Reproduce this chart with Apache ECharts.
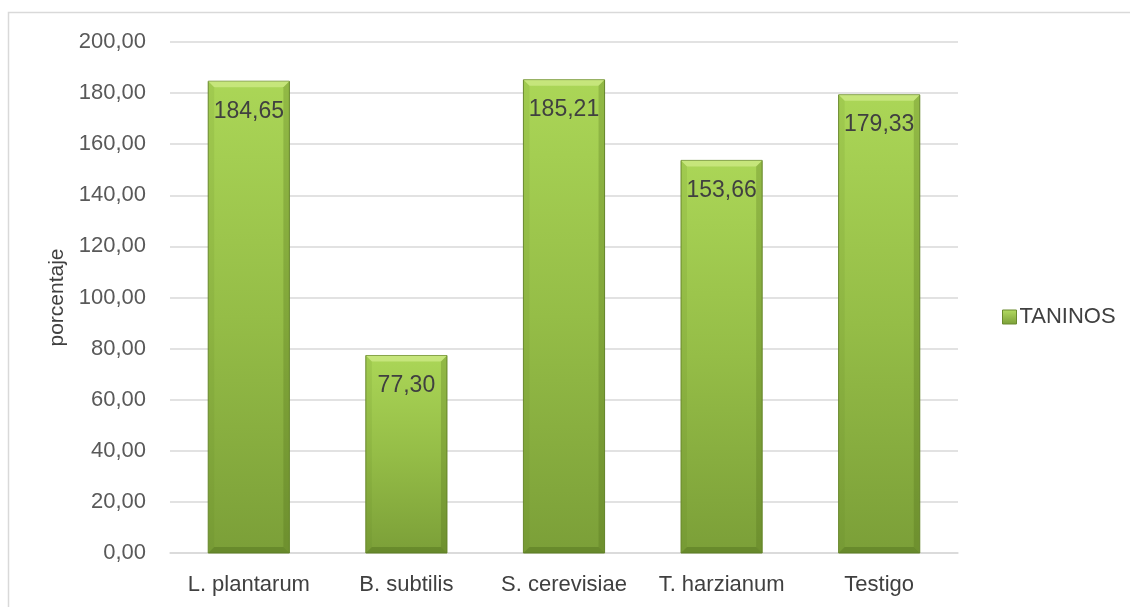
<!DOCTYPE html>
<html>
<head>
<meta charset="utf-8">
<script src="https://cdn.jsdelivr.net/npm/echarts@6/dist/echarts.min.js"></script>
<style>
html,body{margin:0;padding:0;background:#fff;}
#chart{width:1130px;height:607px;}
</style>
</head>
<body>
<div id="chart"></div>
<script>
const categories = ['L. plantarum', 'B. subtilis', 'S. cerevisiae', 'T. harzianum', 'Testigo'];
const taninos = [184.65, 77.30, 185.21, 153.66, 179.33];
const yTicks = [0, 20, 40, 60, 80, 100, 120, 140, 160, 180, 200];

const FONT = '"Liberation Sans", Arial, sans-serif';
const fmt = v => v.toFixed(2).replace('.', ',');

const chart = echarts.init(document.getElementById('chart'));

// bevelled bar: body gradient, lighter top edge, darker sides and bottom
function renderBar(params, api) {
  const idx = api.value(0);
  const val = api.value(1);
  const top = api.coord([idx, val]);
  const base = api.coord([idx, 0]);
  const bw = api.size([1, 0])[0] * 0.515;
  const x0 = top[0] - bw / 2, x1 = top[0] + bw / 2;
  const y0 = top[1], y1 = base[1];
  const b = 6;
  return {
    type: 'group',
    children: [
      { type: 'rect', shape: { x: x0, y: y0, width: bw, height: y1 - y0 },
        style: { fill: new echarts.graphic.LinearGradient(0, 0, 0, 1, [
          { offset: 0, color: '#abd657' }, { offset: 0.5, color: '#95bd47' }, { offset: 1, color: '#7b9f38' }]),
          stroke: '#6a8a2e', lineWidth: 1 } },
      { type: 'polygon', shape: { points: [[x0, y0], [x1, y0], [x1 - b, y0 + b], [x0 + b, y0 + b]] },
        style: { fill: 'rgba(225,245,160,0.5)' } },
      { type: 'polygon', shape: { points: [[x0, y0], [x0 + b, y0 + b], [x0 + b, y1 - b], [x0, y1]] },
        style: { fill: 'rgba(90,120,30,0.12)' } },
      { type: 'polygon', shape: { points: [[x1, y0], [x1 - b, y0 + b], [x1 - b, y1 - b], [x1, y1]] },
        style: { fill: 'rgba(70,100,20,0.25)' } },
      { type: 'polygon', shape: { points: [[x0, y1], [x0 + b, y1 - b], [x1 - b, y1 - b], [x1, y1]] },
        style: { fill: 'rgba(60,90,15,0.3)' } },
      { type: 'text', style: { text: fmt(val), x: top[0], y: y0 + 30, align: 'center', verticalAlign: 'middle',
        font: '23px ' + FONT, fill: '#404040' } }
    ]
  };
}

chart.setOption({
  animation: false,
  backgroundColor: '#fff',
  graphic: [{
    type: 'rect', shape: { x: 8.5, y: 12.5, width: 1200, height: 700 },
    style: { fill: 'none', stroke: '#d9d9d9', lineWidth: 1.5 }, silent: true, z: -1
  }],
  grid: { left: 170, right: 172, top: 42, bottom: 54 },
  legend: {
    data: [{ name: 'TANINOS', icon: 'rect', itemStyle: {
      color: new echarts.graphic.LinearGradient(0, 0, 0, 1, [
        { offset: 0, color: '#b4dc62' }, { offset: 1, color: '#7b9f38' }]),
      borderColor: '#6a8a2e', borderWidth: 1 } }],
    orient: 'vertical', left: 997, top: 301,
    itemWidth: 14, itemHeight: 14, itemGap: 4,
    textStyle: { fontFamily: FONT, fontSize: 22, color: '#404040', padding: [0, 0, 0, -2] }
  },
  xAxis: {
    type: 'category', data: categories,
    axisLine: { lineStyle: { color: '#d9d9d9', width: 1.5 } },
    axisTick: { show: false },
    axisLabel: { fontFamily: FONT, fontSize: 22, color: '#404040', margin: 21, interval: 0 }
  },
  yAxis: {
    type: 'value', min: yTicks[0], max: yTicks[yTicks.length - 1], interval: 20,
    name: 'porcentaje', nameLocation: 'middle', nameGap: 101, nameRotate: 90,
    nameTextStyle: { fontFamily: FONT, fontSize: 21, color: '#404040' },
    axisLine: { show: false }, axisTick: { show: false },
    splitLine: { lineStyle: { color: '#d9d9d9', width: 1.5 } },
    axisLabel: { fontFamily: FONT, fontSize: 22, color: '#595959', margin: 24, formatter: v => fmt(v) }
  },
  series: [{
    name: 'TANINOS', type: 'custom',
    itemStyle: { color: '#95c144' },
    renderItem: renderBar,
    encode: { x: 0, y: 1 },
    data: taninos.map((v, i) => [i, v])
  }]
});
</script>
</body>
</html>
